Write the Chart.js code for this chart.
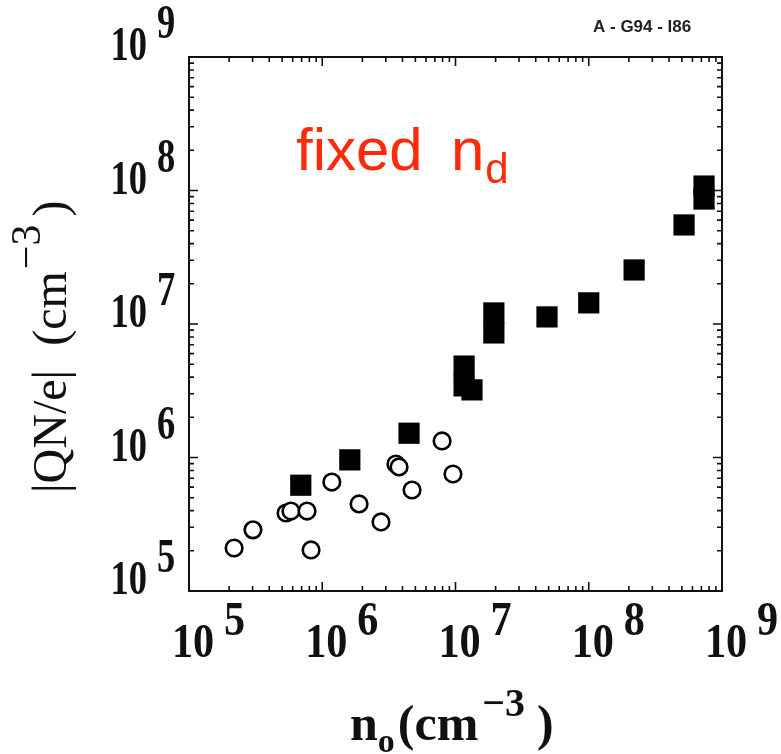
<!DOCTYPE html>
<html>
<head>
<meta charset="utf-8">
<script src="https://cdn.jsdelivr.net/npm/chart.js@4/dist/chart.umd.min.js"></script>
<style>
  html, body { margin: 0; padding: 0; background: #fff; }
  #wrap { width: 781px; height: 754px; }
</style>
</head>
<body>
<div id="wrap"><canvas id="chart" width="781" height="754"></canvas></div>
<script>
// open circles
const circleX = [2.18e5, 3.02e5, 5.35e5, 5.82e5, 7.69e5, 8.24e5, 1.18e6, 1.89e6, 2.76e6, 3.57e6, 3.77e6, 4.72e6, 7.93e6, 9.57e6];
const circleY = [2.10e5, 2.87e5, 3.84e5, 3.97e5, 3.97e5, 2.03e5, 6.55e5, 4.49e5, 3.29e5, 8.93e5, 8.50e5, 5.71e5, 1.33e6, 7.52e5];

// filled squares
const squareX = [6.9e5, 1.61e6, 4.48e6, 1.16e7, 1.16e7, 1.33e7, 1.94e7, 1.94e7, 4.86e7, 1.0e8, 2.19e8, 5.19e8, 7.33e8, 7.33e8];
const squareY = [6.2e5, 9.6e5, 1.52e6, 4.84e6, 3.44e6, 3.21e6, 1.21e7, 8.57e6, 1.13e7, 1.44e7, 2.54e7, 5.52e7, 1.08e8, 8.63e7];

// decade exponents used for the tick labels
const xTickExps = [5, 6, 7, 8, 9];
const yTickExps = [5, 6, 7, 8, 9];

const annotationWords = ['fixed', 'n'];
const annotationSub = 'd';
const tagText = 'A - G94 - I86';

const serif = '"Liberation Serif", "Times New Roman", serif';
const sans = '"Liberation Sans", Arial, sans-serif';

function toPoints(xs, ys) {
  return xs.map((x, i) => ({ x: x, y: ys[i] }));
}

// draws "10" with a raised exponent, squeezed a bit like the scanned figure
function drawPower(ctx, exp, cx, cy, align, squeeze) {
  ctx.save();
  ctx.font = 'bold 48px ' + serif;
  ctx.fillStyle = '#111';
  ctx.textBaseline = 'middle';
  const w10 = ctx.measureText('10').width * squeeze;
  let left = align === 'right' ? cx - w10 : cx - w10 / 2;
  ctx.save();
  ctx.translate(left, cy);
  ctx.scale(squeeze, 1);
  ctx.textAlign = 'left';
  ctx.fillText('10', 0, 0);
  ctx.restore();
  ctx.save();
  ctx.translate(left + w10 + 10, cy - 22);
  ctx.scale(squeeze, 1);
  ctx.textAlign = 'left';
  ctx.fillText(String(exp), 0, 0);
  ctx.restore();
  ctx.restore();
}

const framePlugin = {
  id: 'frame',
  beforeDatasetsDraw(chart) {
    const ctx = chart.ctx;
    const a = chart.chartArea;
    const xs = chart.scales.x;
    const ys = chart.scales.y;
    ctx.save();
    ctx.strokeStyle = '#111';
    ctx.lineWidth = 2;
    ctx.strokeRect(a.left, a.top, a.right - a.left, a.bottom - a.top);
    ctx.lineWidth = 1.6;
    ctx.beginPath();
    for (let n = 5; n <= 9; n++) {
      for (let k = 1; k <= 9; k++) {
        if (n === 9 && k > 1) break;
        const v = k * Math.pow(10, n);
        const len = k === 1 ? 9 : 5;
        const px = xs.getPixelForValue(v);
        ctx.moveTo(px, a.bottom); ctx.lineTo(px, a.bottom - len);
        ctx.moveTo(px, a.top); ctx.lineTo(px, a.top + len);
        const py = ys.getPixelForValue(v);
        ctx.moveTo(a.left, py); ctx.lineTo(a.left + len, py);
        ctx.moveTo(a.right, py); ctx.lineTo(a.right - len, py);
      }
    }
    ctx.stroke();
    ctx.restore();
  },
  afterDraw(chart) {
    const ctx = chart.ctx;
    const a = chart.chartArea;
    const xs = chart.scales.x;
    const ys = chart.scales.y;

    xTickExps.forEach(e => {
      drawPower(ctx, e, xs.getPixelForValue(Math.pow(10, e)) + 4, a.bottom + 54, 'center', 0.88);
    });
    yTickExps.forEach(e => {
      drawPower(ctx, e, 147, ys.getPixelForValue(Math.pow(10, e)) - 9, 'right', 0.76);
    });

    // x title: n_o (cm^-3 )
    ctx.save();
    ctx.fillStyle = '#111';
    ctx.textBaseline = 'alphabetic';
    ctx.textAlign = 'left';
    let x = 350;
    ctx.font = 'bold 50px ' + serif;
    ctx.fillText('n', x, 740);
    x += ctx.measureText('n').width;
    ctx.font = 'bold 34px ' + serif;
    ctx.fillText('o', x, 752);
    x += ctx.measureText('o').width + 3;
    ctx.font = 'bold 50px ' + serif;
    ctx.fillText('(cm', x, 740);
    x += ctx.measureText('(cm').width + 4;
    ctx.font = 'bold 40px ' + serif;
    ctx.fillText('\u22123', x, 716);
    x += ctx.measureText('\u22123').width + 12;
    ctx.font = 'bold 50px ' + serif;
    ctx.fillText(')', x, 740);
    ctx.restore();

    // y title, rotated: |QN/e| (cm^-3 )
    ctx.save();
    ctx.translate(66, 493);
    ctx.rotate(-Math.PI / 2);
    ctx.fillStyle = '#111';
    ctx.textAlign = 'left';
    ctx.textBaseline = 'alphabetic';
    let t = 0;
    ctx.font = '48px ' + serif;
    ctx.fillText('|QN/e|', t, 0);
    t += ctx.measureText('|QN/e|  ').width;
    ctx.fillText('(cm', t, 0);
    t += ctx.measureText('(cm').width + 2;
    ctx.font = '42px ' + serif;
    ctx.fillText('\u22123', t, -26);
    t += ctx.measureText('\u22123').width + 8;
    ctx.font = '48px ' + serif;
    ctx.fillText(')', t, 0);
    ctx.restore();

    // red annotation
    ctx.save();
    ctx.fillStyle = '#ff2a0a';
    ctx.textAlign = 'left';
    ctx.textBaseline = 'alphabetic';
    ctx.font = '60px ' + sans;
    ctx.fillText(annotationWords[0], 296, 170);
    ctx.fillText(annotationWords[1], 451, 170);
    const nw = ctx.measureText(annotationWords[1]).width;
    ctx.font = '42px ' + sans;
    ctx.fillText(annotationSub, 451 + nw + 1, 183);
    ctx.restore();

    // figure tag
    ctx.save();
    ctx.fillStyle = '#222';
    ctx.font = 'bold 17px ' + sans;
    ctx.textAlign = 'left';
    ctx.textBaseline = 'alphabetic';
    ctx.fillText(tagText, 593, 32);
    ctx.restore();
  }
};

new Chart(document.getElementById('chart'), {
  type: 'scatter',
  data: {
    datasets: [
      {
        label: 'open',
        data: toPoints(circleX, circleY),
        pointStyle: 'circle',
        pointRadius: 8.3,
        pointHoverRadius: 8.3,
        backgroundColor: '#fff',
        borderColor: '#000',
        borderWidth: 2.6
      },
      {
        label: 'filled',
        data: toPoints(squareX, squareY),
        pointStyle: 'rect',
        pointRadius: 15,
        pointHoverRadius: 15,
        backgroundColor: '#000',
        borderColor: '#000',
        borderWidth: 0
      }
    ]
  },
  options: {
    responsive: false,
    animation: false,
    devicePixelRatio: 1,
    layout: { padding: { left: 189, right: 59, top: 57, bottom: 163 } },
    plugins: {
      legend: { display: false },
      tooltip: { enabled: false }
    },
    scales: {
      x: { type: 'logarithmic', min: 1e5, max: 1e9, display: false },
      y: { type: 'logarithmic', min: 1e5, max: 1e9, display: false }
    }
  },
  plugins: [framePlugin]
});
</script>
</body>
</html>
